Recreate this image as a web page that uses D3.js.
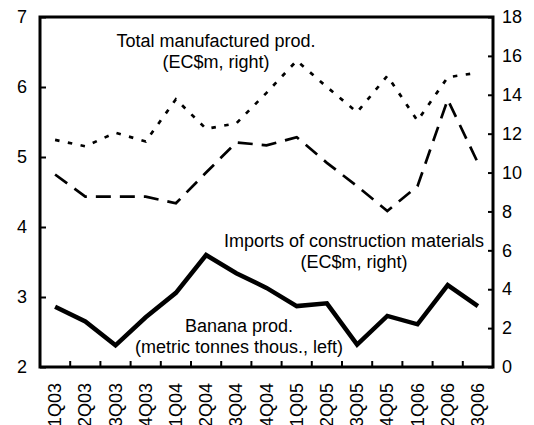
<!DOCTYPE html>
<html>
<head>
<meta charset="utf-8">
<title>Output indicators</title>
<style>
body { margin: 0; background: #fff; }
svg text { font-family: "Liberation Sans", Arial, sans-serif; font-size: 18px; fill: #000; }
.frame { fill: none; stroke: #000; stroke-width: 3; }
.axis path { display: none; }
.axis line { stroke: #000; stroke-width: 2; }
</style>
</head>
<body>
<script src="https://cdn.jsdelivr.net/npm/d3@7"></script>
<script>
var quarters = ["1Q03","2Q03","3Q03","4Q03","1Q04","2Q04","3Q04","4Q04",
                "1Q05","2Q05","3Q05","4Q05","1Q06","2Q06","3Q06"];
// banana prod., metric tonnes thous. (left axis)
var banana = [2.86,2.65,2.31,2.71,3.06,3.60,3.34,3.13,2.87,2.91,2.32,2.73,2.61,3.17,2.87];
// imports of construction materials, EC$m (right axis)
var imports = [9.9,8.76,8.76,8.76,8.42,10.0,11.55,11.4,11.82,10.5,9.3,8.02,9.3,13.75,10.5];
// total manufactured prod., EC$m (right axis)
var manuf = [11.68,11.35,12.05,11.6,13.77,12.25,12.53,14.1,15.75,14.4,13.1,14.97,12.67,14.9,15.14];
var leftTicks = [2,3,4,5,6,7];
var rightTicks = [0,2,4,6,8,10,12,14,16,18];

var width = 534, height = 425;
var m = {left: 40, right: 493, top: 17, bottom: 367};

var svg = d3.select("body").append("svg")
    .attr("width", width)
    .attr("height", height);

var x = d3.scaleBand().domain(quarters).range([m.left, m.right]);
var yL = d3.scaleLinear().domain([2, 7]).range([m.bottom, m.top]);
var yR = d3.scaleLinear().domain([0, 18]).range([m.bottom, m.top]);
var cx = function(d, i){ return x(quarters[i]) + x.bandwidth() / 2; };

// axes (ticks point inward)
var axL = svg.append("g").attr("class","axis")
    .attr("transform","translate(" + m.left + ",0)")
    .call(d3.axisRight(yL).tickValues(leftTicks).tickSize(6).tickFormat(d3.format("d")));
axL.selectAll("text").attr("x", -13).attr("text-anchor","end");

var axR = svg.append("g").attr("class","axis")
    .attr("transform","translate(" + m.right + ",0)")
    .call(d3.axisLeft(yR).tickValues(rightTicks).tickSize(5).tickFormat(d3.format("d")));
axR.selectAll("text").attr("x", 9).attr("text-anchor","start");

// bottom ticks between categories
svg.append("g").selectAll("line")
    .data(quarters.slice(1))
    .enter().append("line")
    .attr("x1", function(d){ return x(d); })
    .attr("x2", function(d){ return x(d); })
    .attr("y1", m.bottom)
    .attr("y2", m.bottom - 6)
    .attr("stroke","#000")
    .attr("stroke-width",2);

svg.append("g").selectAll("text")
    .data(quarters)
    .enter().append("text")
    .attr("transform", function(d){
        return "translate(" + (x(d) + x.bandwidth()/2 + 6) + "," + (m.bottom + 16) + ") rotate(-90)";
    })
    .attr("text-anchor","end")
    .text(function(d){ return d; });

svg.append("rect").attr("class","frame")
    .attr("x", m.left).attr("y", m.top)
    .attr("width", m.right - m.left).attr("height", m.bottom - m.top);

// series
var lineL = d3.line().x(cx).y(function(d){ return yL(d); });
var lineR = d3.line().x(cx).y(function(d){ return yR(d); });

svg.append("path").datum(manuf)
    .attr("d", lineR)
    .attr("fill","none").attr("stroke","#000")
    .attr("stroke-width",2.7).attr("stroke-dasharray","4.5,8.5");

svg.append("path").datum(imports)
    .attr("d", lineR)
    .attr("fill","none").attr("stroke","#000")
    .attr("stroke-width",2.7).attr("stroke-dasharray","15,9");

svg.append("path").datum(banana)
    .attr("d", lineL)
    .attr("fill","none").attr("stroke","#000")
    .attr("stroke-width",4.5).attr("stroke-linejoin","miter");

// labels
function label(lines, xc, y0){
    var t = svg.append("text").attr("text-anchor","middle");
    lines.forEach(function(s, i){
        t.append("tspan").attr("x", xc).attr("y", y0 + i * 21).text(s);
    });
}
label(["Total manufactured prod.", "(EC$m, right)"], 216, 47);
label(["Imports of construction materials", "(EC$m, right)"], 354, 247);
label(["Banana prod.", "(metric tonnes thous., left)"], 239, 332);
</script>
</body>
</html>
